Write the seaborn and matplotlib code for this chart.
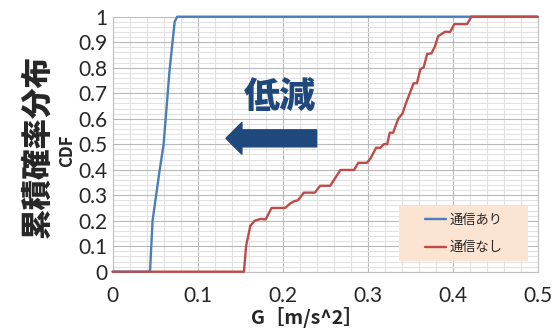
import numpy as np
import pandas as pd
import matplotlib.pyplot as plt
from matplotlib.patches import Rectangle
import seaborn as sns

# 通信あり (blue) / 通信なし (red) のCDF
blue_x = [0, 0.044, 0.047, 0.055, 0.060, 0.067, 0.073, 0.076, 0.5]
blue_y = [0, 0, 0.20, 0.39, 0.50, 0.79, 0.98, 1.0, 1.0]

red_x = [0, 0.1545, 0.157, 0.162, 0.167, 0.174, 0.180, 0.187, 0.203, 0.209,
         0.214, 0.218, 0.225, 0.238, 0.244, 0.256, 0.268, 0.284, 0.289, 0.299,
         0.303, 0.310, 0.315, 0.319, 0.323, 0.326, 0.330, 0.336, 0.341, 0.345,
         0.351, 0.354, 0.358, 0.362, 0.366, 0.370, 0.375, 0.379, 0.383, 0.387,
         0.391, 0.397, 0.402, 0.417, 0.422, 0.5]
red_y = [0, 0, 0.10, 0.18, 0.20, 0.207, 0.205, 0.25, 0.25, 0.268,
         0.277, 0.28, 0.31, 0.31, 0.337, 0.337, 0.399, 0.399, 0.427, 0.427,
         0.442, 0.486, 0.486, 0.50, 0.50, 0.545, 0.545, 0.60, 0.62, 0.66,
         0.712, 0.739, 0.739, 0.794, 0.802, 0.854, 0.856, 0.882, 0.924, 0.932,
         0.941, 0.94, 0.971, 0.971, 1.0, 1.0]

series = ['通信あり', '通信なし']
colors = {'通信あり': '#4a7ebb', '通信なし': '#be4b48'}

x_ticks = [0, 0.1, 0.2, 0.3, 0.4, 0.5]
x_labels = ['0', '0.1', '0.2', '0.3', '0.4', '0.5']
y_ticks = [0, 0.1, 0.2, 0.3, 0.4, 0.5, 0.6, 0.7, 0.8, 0.9, 1.0]
y_labels = ['0', '0.1', '0.2', '0.3', '0.4', '0.5', '0.6', '0.7', '0.8', '0.9', '1']

df = pd.concat([
    pd.DataFrame({'G': blue_x, 'CDF': blue_y, 'series': series[0]}),
    pd.DataFrame({'G': red_x, 'CDF': red_y, 'series': series[1]}),
])

sns.set_style('white')
plt.rcParams['font.family'] = ['Lato', 'Noto Sans CJK JP', 'DejaVu Sans']
bold_font = ['Noto Sans CJK JP', 'DejaVu Sans']

fig = plt.figure(figsize=(5.52, 3.34), dpi=100)
ax = fig.add_axes([0.204, 0.1865, 0.770, 0.7635])

sns.lineplot(data=df, x='G', y='CDF', hue='series', palette=colors,
             estimator=None, sort=False, linewidth=1.7, ax=ax,
             zorder=3, clip_on=False)

ax.set_xlim(0, 0.5)
ax.set_ylim(0, 1)
ax.set_xticks(x_ticks)
ax.set_xticklabels(x_labels)
ax.set_yticks(y_ticks)
ax.set_yticklabels(y_labels)
ax.set_xticks(np.arange(0, 0.501, 0.02), minor=True)
ax.set_yticks(np.arange(0, 1.001, 0.02), minor=True)
ax.tick_params(which='both', length=0, labelsize=15)
ax.tick_params(axis='x', pad=10)
ax.tick_params(axis='y', pad=4)

ax.set_axisbelow(True)
ax.grid(which='minor', color='#e2e2e2', linewidth=0.8)
ax.grid(which='major', color='#b8b8b8', linewidth=0.8)
for s in ax.spines.values():
    s.set_color('#c0c0c0')
    s.set_linewidth(0.8)

# 軸ラベル
ax.set_xlabel('G［m/s^2］', fontsize=14, fontweight='bold', family=bold_font)
ax.xaxis.set_label_coords(0.457, -0.14)
ax.set_ylabel('累積確率分布', fontsize=22, fontweight='black', va='center',
              family=bold_font)
ax.yaxis.set_label_coords(-0.178, 0.49)
ax.text(-0.107, 0.475, 'CDF', transform=ax.transAxes, rotation=90,
        ha='center', va='center', fontsize=12, fontweight='bold',
        family=bold_font)

# 低減の矢印
ax.text(0.197, 0.681, '低減', fontsize=26, fontweight='black',
        color='#1f497d', ha='center', va='center', family=bold_font)
ax.arrow(0.24, 0.523, -0.1067, 0, width=0.0667, head_width=0.125,
         head_length=0.0188, length_includes_head=True,
         color='#1f497d', zorder=4)

# 凡例
ax.add_patch(Rectangle((0.674, 0.043), 0.304, 0.216, transform=ax.transAxes,
                       facecolor='#fce4d2', edgecolor='none', zorder=3))
sns.move_legend(ax, 'center', bbox_to_anchor=(0.826, 0.151), frameon=False,
                title=None, fontsize=9.5, handlelength=1.6,
                handletextpad=0.3, labelspacing=1.1)

fig.savefig('out.png', dpi=100)
